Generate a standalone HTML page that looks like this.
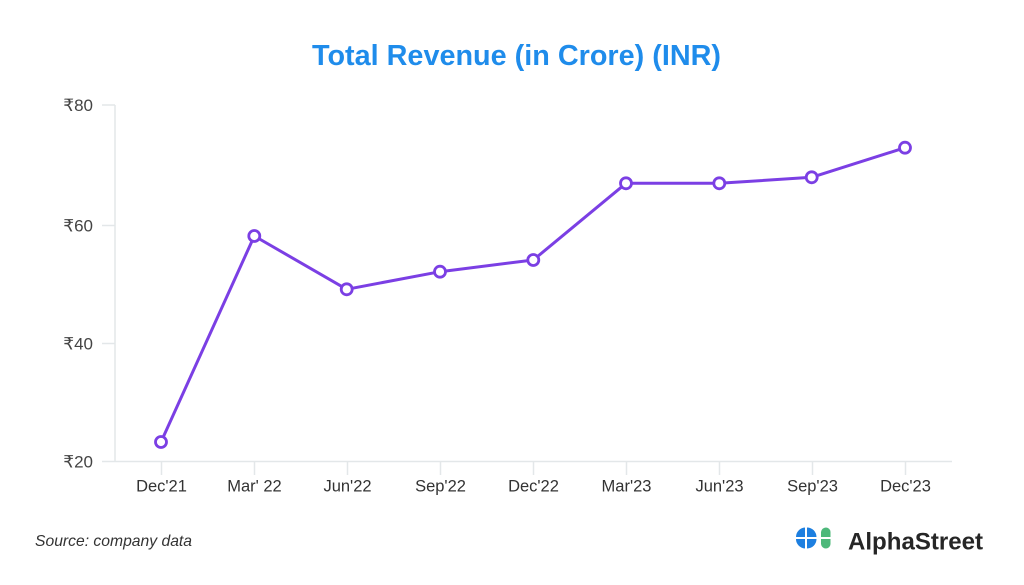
<!DOCTYPE html>
<html>
<head>
<meta charset="utf-8">
<style>
  html, body { margin: 0; padding: 0; background: #ffffff; }
  body { width: 1024px; height: 585px; overflow: hidden; }
  svg { display: block; }
  text { font-family: "Liberation Sans", "DejaVu Sans", sans-serif; }
</style>
</head>
<body>
<svg width="1024" height="585" viewBox="0 0 1024 585" xmlns="http://www.w3.org/2000/svg">
  <rect x="0" y="0" width="1024" height="585" fill="#ffffff"/>

  <!-- Title -->
  <text x="312" y="65" font-size="29" font-weight="bold" fill="#1f8ceb" textLength="409" lengthAdjust="spacingAndGlyphs">Total Revenue (in Crore) (INR)</text>

  <!-- Axes -->
  <g stroke="#e3e7e9" stroke-width="1.5" fill="none">
    <line x1="115" y1="105" x2="115" y2="462"/>
    <line x1="102" y1="105" x2="115" y2="105"/>
    <line x1="102" y1="225.5" x2="115" y2="225.5"/>
    <line x1="102" y1="343.5" x2="115" y2="343.5"/>
    <line x1="102" y1="461.5" x2="952" y2="461.5"/>
    <line x1="161.5" y1="461.5" x2="161.5" y2="475"/>
    <line x1="254.5" y1="461.5" x2="254.5" y2="475"/>
    <line x1="347.5" y1="461.5" x2="347.5" y2="475"/>
    <line x1="440.5" y1="461.5" x2="440.5" y2="475"/>
    <line x1="533.5" y1="461.5" x2="533.5" y2="475"/>
    <line x1="626.5" y1="461.5" x2="626.5" y2="475"/>
    <line x1="719.5" y1="461.5" x2="719.5" y2="475"/>
    <line x1="812.5" y1="461.5" x2="812.5" y2="475"/>
    <line x1="905.5" y1="461.5" x2="905.5" y2="475"/>
  </g>

  <!-- Y labels -->
  <g font-size="17" fill="#444444" text-anchor="end">
    <text x="93" y="111">₹80</text>
    <text x="93" y="231.5">₹60</text>
    <text x="93" y="349.5">₹40</text>
    <text x="93" y="467.5">₹20</text>
  </g>

  <!-- X labels -->
  <g font-size="16.5" fill="#333333" text-anchor="middle">
    <text x="161.5" y="491.5">Dec'21</text>
    <text x="254.5" y="491.5">Mar' 22</text>
    <text x="347.5" y="491.5">Jun'22</text>
    <text x="440.5" y="491.5">Sep'22</text>
    <text x="533.5" y="491.5">Dec'22</text>
    <text x="626.5" y="491.5">Mar'23</text>
    <text x="719.5" y="491.5">Jun'23</text>
    <text x="812.5" y="491.5">Sep'23</text>
    <text x="905.5" y="491.5">Dec'23</text>
  </g>

  <!-- Series -->
  <polyline fill="none" stroke="#7b3fe4" stroke-width="3" stroke-linejoin="round"
    points="161,442 254.3,236 346.7,289.3 440,271.7 533.3,260 626,183.3 719.3,183.3 811.7,177.3 905,147.7"/>
  <g fill="#ffffff" stroke="#7b3fe4" stroke-width="2.8">
    <circle cx="161" cy="442" r="5.5"/>
    <circle cx="254.3" cy="236" r="5.5"/>
    <circle cx="346.7" cy="289.3" r="5.5"/>
    <circle cx="440" cy="271.7" r="5.5"/>
    <circle cx="533.3" cy="260" r="5.5"/>
    <circle cx="626" cy="183.3" r="5.5"/>
    <circle cx="719.3" cy="183.3" r="5.5"/>
    <circle cx="811.7" cy="177.3" r="5.5"/>
    <circle cx="905" cy="147.7" r="5.5"/>
  </g>

  <!-- Source -->
  <text x="35" y="546" font-size="16" font-style="italic" fill="#333333" textLength="157" lengthAdjust="spacingAndGlyphs">Source: company data</text>

  <!-- Logo icon -->
  <g>
    <path d="M805,527.5 L805,537 L796,537 A9.5,9.5 0 0 1 805,527.5 Z" fill="#1d7fe0"/>
    <path d="M807,527.5 A9.5,9.5 0 0 1 816.5,537 L807,537 Z" fill="#1d7fe0"/>
    <path d="M796,539 L805,539 L805,548.5 A9.5,9.5 0 0 1 796,539 Z" fill="#1d7fe0"/>
    <path d="M807,539 L816.5,539 A9.5,9.5 0 0 1 807,548.5 Z" fill="#1d7fe0"/>
    <path d="M821,537 L821,532 A5,5 0 0 1 826,527.5 A4.5,4.5 0 0 1 830.5,532 L830.5,537 Z" fill="#4db87a"/>
    <path d="M821,539 L830.5,539 L830.5,544 A4.5,4.5 0 0 1 826,548.5 A5,5 0 0 1 821,544 Z" fill="#4db87a"/>
  </g>
  <text x="848" y="549.5" font-size="24" font-weight="bold" fill="#262626" textLength="135" lengthAdjust="spacingAndGlyphs">AlphaStreet</text>
</svg>
</body>
</html>
